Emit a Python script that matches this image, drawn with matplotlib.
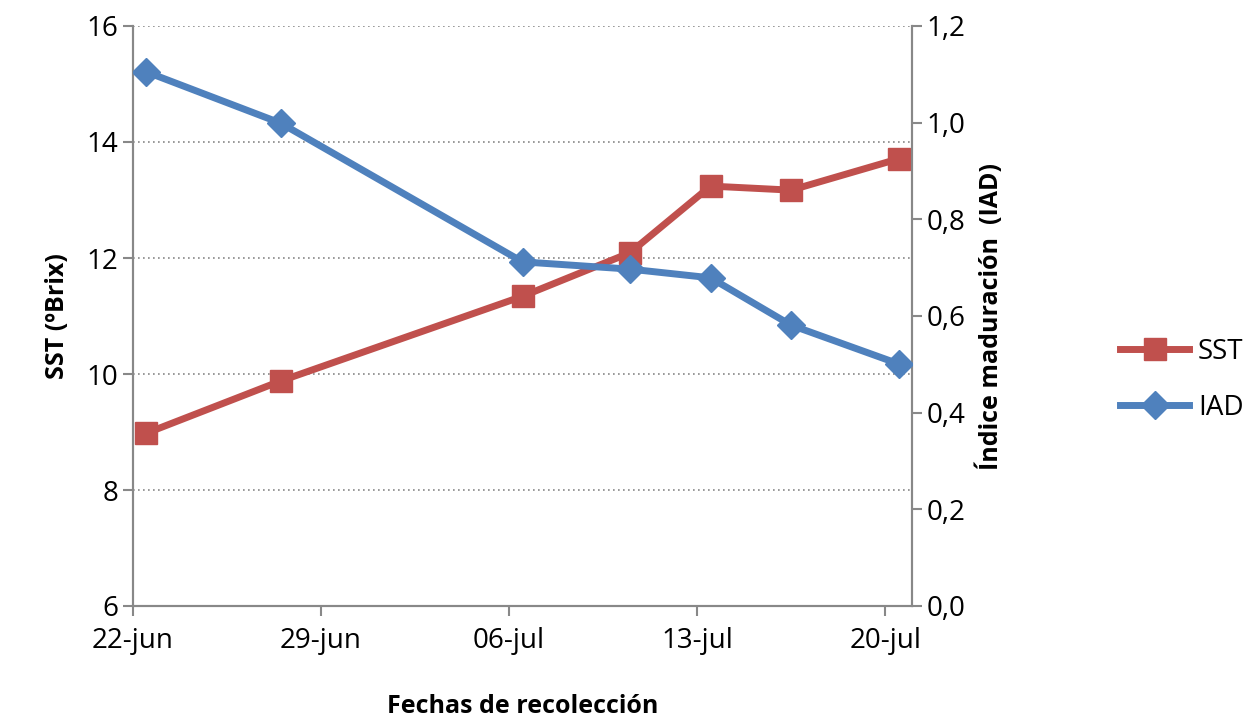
import matplotlib
matplotlib.use("Agg")
import matplotlib.pyplot as plt

# días desde el 22-jun
dias = [0.5, 5.5, 14.5, 18.5, 21.5, 24.5, 28.5]
sst = [8.98, 9.88, 11.34, 12.09, 13.24, 13.17, 13.71]
iad = [1.105, 0.999, 0.712, 0.697, 0.679, 0.581, 0.501]
tick_dias = [0, 7, 14, 21, 28]
tick_labels = ["22-jun", "29-jun", "06-jul", "13-jul", "20-jul"]

plt.rcParams["font.family"] = ["Open Sans", "DejaVu Sans"]
RED = "#c0504d"
BLUE = "#4f81bd"

fig = plt.figure(figsize=(12.47, 7.27), dpi=100)
ax = fig.add_axes([133 / 1247, 1 - 606 / 727, (912 - 133) / 1247, (606 - 26) / 727])
ax2 = ax.twinx()

ax.set_xlim(0, 29)
ax.set_ylim(6, 16)
ax2.set_ylim(0, 1.2)
ax.set_yticks(range(6, 17, 2))
ax2.set_yticks([0, 0.2, 0.4, 0.6, 0.8, 1.0, 1.2])
ax2.set_yticklabels([f"{v:.1f}".replace(".", ",") for v in ax2.get_yticks()])
ax.set_xticks(tick_dias)
ax.set_xticklabels(tick_labels)

for y in range(8, 17, 2):
    ax.axhline(y, color="#888888", ls=(0, (1, 2)), lw=1.2, zorder=0)

l1, = ax.plot(dias, sst, color=RED, lw=5, marker="s", ms=16, label="SST", zorder=3)
l2, = ax2.plot(dias, iad, color=BLUE, lw=5, marker="D", ms=14, label="IAD", zorder=3)

for a in (ax, ax2):
    a.spines["top"].set_visible(False)
    for s in ("left", "right", "bottom"):
        a.spines[s].set_color("#888888")
        a.spines[s].set_linewidth(1.5)
    a.tick_params(labelsize=20, color="#888888", length=7, width=1.5)
ax.tick_params(axis="x", pad=8)

ax.set_ylabel("SST (ºBrix)", fontsize=18, fontweight="bold", labelpad=12)
ax2.set_ylabel("Índice maduración  (IAD)", fontsize=18, fontweight="bold", labelpad=8)
ax.set_xlabel("Fechas de recolección", fontsize=18, fontweight="bold", labelpad=28)

fig.legend(handles=[l1, l2], loc="center left", bbox_to_anchor=(1095 / 1247, 1 - 380 / 727),
           frameon=False, fontsize=20, handlelength=2.5, handletextpad=0.3, labelspacing=1.0)

fig.savefig("out.png", dpi=100)
